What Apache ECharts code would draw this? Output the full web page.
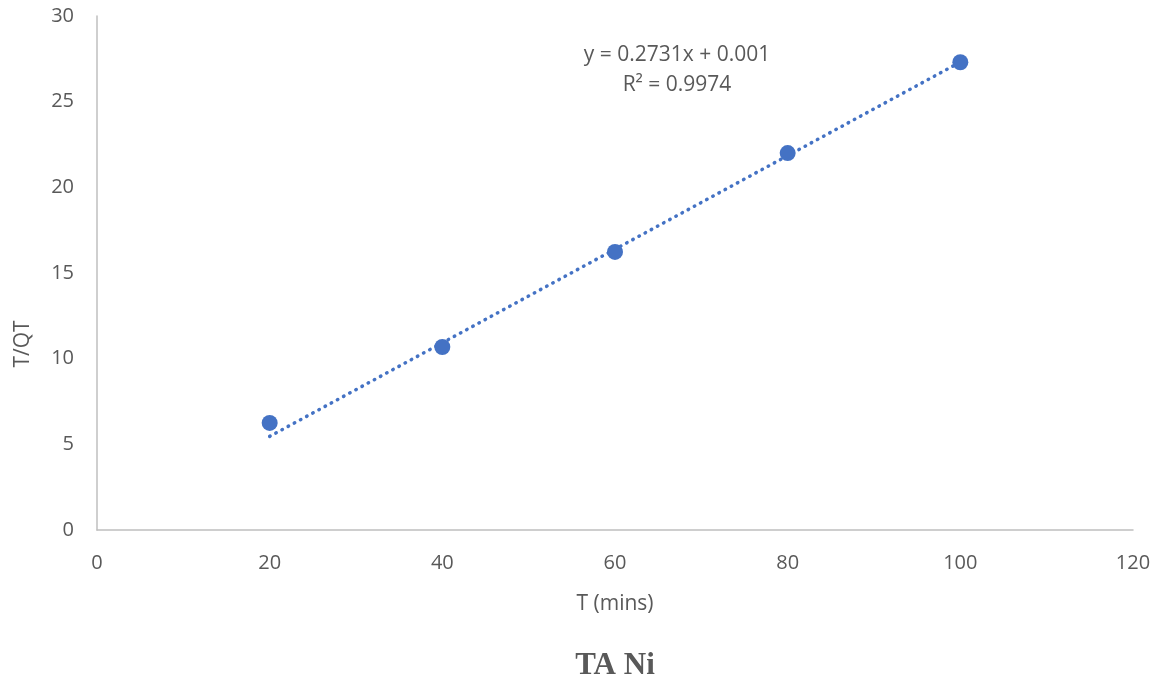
<!DOCTYPE html>
<html>
<head>
<meta charset="utf-8">
<script src="https://cdn.jsdelivr.net/npm/echarts@6/dist/echarts.min.js"></script>
<style>
  html, body { margin: 0; padding: 0; background: #fff; }
  #chart { width: 1162px; height: 688px; }
</style>
</head>
<body>
<div id="chart"></div>
<script>
// Measured points: time (mins) vs T/QT
const timeMins = [20, 40, 60, 80, 100];
const tOverQt = [6.25, 10.68, 16.23, 22.0, 27.3];

// Linear fit shown on the chart
const fitSlope = 0.2731;
const fitIntercept = 0.001;
const fitR2 = 0.9974;

const xTicks = [0, 20, 40, 60, 80, 100, 120];
const yTicks = [0, 5, 10, 15, 20, 25, 30];

const points = timeMins.map((t, i) => [t, tOverQt[i]]);
const fitStart = timeMins[0];
const fitEnd = timeMins[timeMins.length - 1];
const fitLine = [
  [fitStart, fitSlope * fitStart + fitIntercept],
  [fitEnd, fitSlope * fitEnd + fitIntercept]
];

const chart = echarts.init(document.getElementById('chart'));
const textColor = '#595959';
const axisColor = '#bfbfbf';
const font = '"Open Sans", "Liberation Sans", sans-serif';

chart.setOption({
  animation: false,
  grid: { left: 97, right: 29, top: 16, bottom: 158, containLabel: false },
  xAxis: {
    type: 'value',
    min: xTicks[0],
    max: xTicks[xTicks.length - 1],
    interval: 20,
    name: 'T (mins)',
    nameLocation: 'middle',
    nameGap: 64,
    nameTextStyle: { color: textColor, fontSize: 21, fontFamily: font },
    axisLine: { show: true, lineStyle: { color: axisColor, width: 1.5 } },
    axisTick: { show: false },
    splitLine: { show: false },
    axisLabel: { color: textColor, fontSize: 20, fontFamily: font, margin: 23 }
  },
  yAxis: {
    type: 'value',
    min: yTicks[0],
    max: yTicks[yTicks.length - 1],
    interval: 5,
    axisLine: { show: true, lineStyle: { color: axisColor, width: 1.5 } },
    axisTick: { show: false },
    splitLine: { show: false },
    axisLabel: { color: textColor, fontSize: 20, fontFamily: font, margin: 23 }
  },
  graphic: [
    {
      type: 'text',
      x: 23,
      y: 344,
      rotation: Math.PI / 2,
      style: {
        text: 'T/QT',
        font: '21px ' + font,
        fill: textColor,
        align: 'center',
        verticalAlign: 'middle'
      }
    },
    {
      type: 'text',
      x: 615,
      y: 666,
      style: {
        text: 'TA Ni',
        font: 'bold 31px "Liberation Serif", "DejaVu Serif", serif',
        fill: textColor,
        align: 'center',
        verticalAlign: 'middle'
      }
    },
    {
      type: 'text',
      x: 677,
      y: 55,
      style: {
        text: 'y = ' + fitSlope + 'x + ' + fitIntercept,
        font: '21px ' + font,
        fill: textColor,
        align: 'center',
        verticalAlign: 'middle'
      }
    },
    {
      type: 'text',
      x: 677,
      y: 85,
      style: {
        text: 'R\u00B2 = ' + fitR2,
        font: '21px ' + font,
        fill: textColor,
        align: 'center',
        verticalAlign: 'middle'
      }
    }
  ],
  series: [
    {
      type: 'line',
      data: fitLine,
      symbol: 'none',
      lineStyle: { color: '#4472C4', width: 3.5, type: [0.5, 6.5], cap: 'round' },
      z: 1
    },
    {
      type: 'scatter',
      data: points,
      symbol: 'circle',
      symbolSize: 16,
      itemStyle: { color: '#4472C4', opacity: 1 },
      z: 2
    }
  ]
});
</script>
</body>
</html>
